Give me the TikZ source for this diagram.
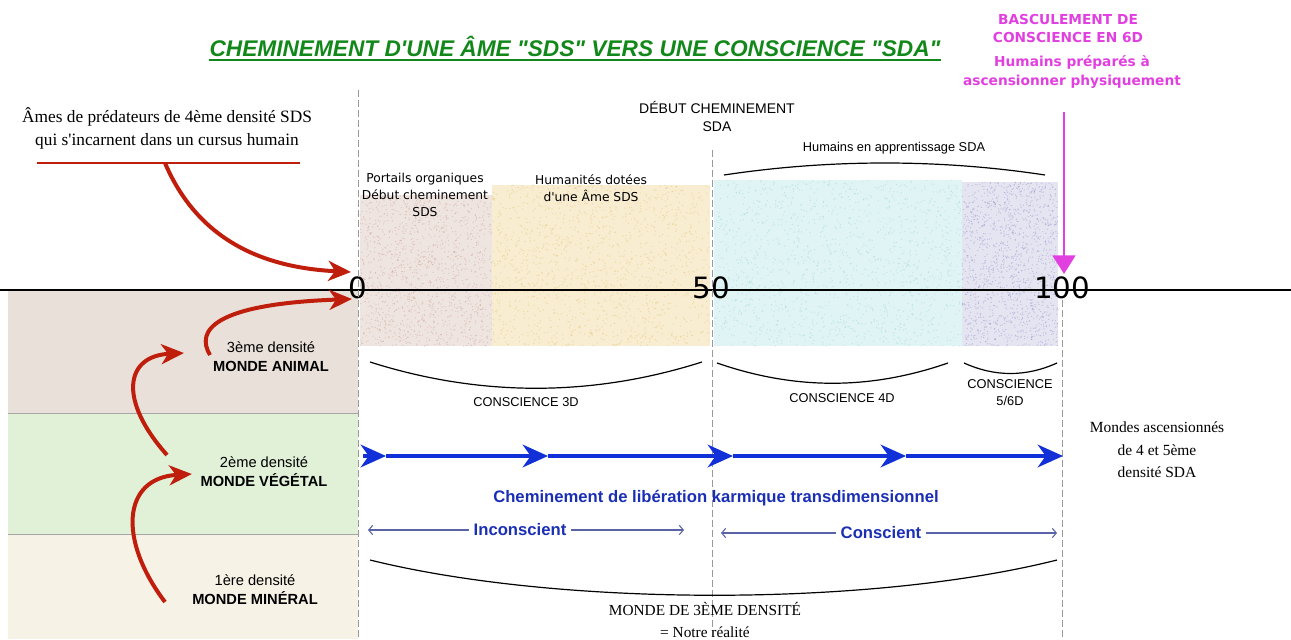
\documentclass[tikz,border=0pt]{standalone}
\usepackage{fontspec}
\setmainfont{Liberation Serif}[Ligatures=TeXOff]
\setsansfont{Liberation Sans}[Ligatures=TeXOff]
\newfontfamily\dvs{DejaVu Sans}[Ligatures=TeXOff]
\usetikzlibrary{arrows.meta}
\tikzset{>=latex}
\definecolor{titlegreen}{HTML}{13881A}
\definecolor{pinkish}{HTML}{E23FE0}
\definecolor{darkred}{HTML}{C01E0C}
\definecolor{karmablue}{HTML}{1230D8}
\definecolor{textblue}{HTML}{1A2FB4}
\definecolor{thinblue}{HTML}{5A62A8}
\definecolor{bandanimal}{HTML}{E9E1D9}
\definecolor{bandvegetal}{HTML}{E0F1D8}
\definecolor{bandmineral}{HTML}{F7F2E6}
\definecolor{portbg}{HTML}{EADCD6}
\definecolor{portdot}{HTML}{C09080}
\definecolor{humbg}{HTML}{F5E6C2}
\definecolor{humdot}{HTML}{E2B850}
\definecolor{sdabg}{HTML}{D6F0F1}
\definecolor{sdadot}{HTML}{80CCD4}
\definecolor{vibg}{HTML}{DCDCEE}
\definecolor{vidot}{HTML}{8080BC}
\newcommand{\fsz}[2]{\fontsize{#1}{#2}\selectfont}
% zone tachetee : x1 y1 largeur hauteur fond points
\newcommand{\speckle}[6]{
  \fill[#5, opacity=.75] (#1,#2) rectangle ++(#3,#4);
  \foreach \k in {1,...,1400}{
    \pgfmathsetmacro{\sx}{#1+#3*rnd}
    \pgfmathsetmacro{\sy}{#2+#4*rnd}
    \fill[#6, opacity=.35] (\sx,\sy) circle (0.7);
  }
}
\tikzset{
  redarrow/.style={darkred, line width=3pt, -{Stealth[length=17pt,width=15pt,inset=5pt]}},
  bluearrow/.style={karmablue, line width=2.6pt, -{Stealth[length=19pt,width=17pt,inset=6pt]}},
  thinarrow/.style={thinblue, line width=0.8pt, -{Straight Barb[length=3pt,width=7pt]}},
  dashline/.style={gray!80, line width=0.6pt, dash pattern=on 5pt off 2.5pt},
  arc/.style={black, line width=0.9pt},
  banner/.style={font=\sffamily\fsz{11}{14.25}, align=center},
  consc/.style={font=\sffamily\fsz{9.6}{12.75}, align=center},
  bigdigit/.style={font=\dvs\fsz{22}{24}, inner sep=0pt},
}
\begin{document}
\begin{tikzpicture}[x=0.75pt,y=-0.75pt]
\useasboundingbox (0,0) rectangle (1291,639);
\pgfmathsetseed{7}
% densites a gauche
\fill[bandanimal] (8,290) rectangle (358,413);
\fill[bandvegetal] (8,413) rectangle (358,534);
\fill[bandmineral] (8,534) rectangle (358,639);
\draw[gray!70] (8,413) -- (358,413) (8,534) -- (358,534);
% zones colorees
\speckle{360}{195}{132}{151}{portbg}{portdot}
\speckle{492}{185}{218}{161}{humbg}{humdot}
\speckle{714}{180}{248}{166}{sdabg}{sdadot}
\speckle{962}{182}{96}{164}{vibg}{vidot}

\node[font=\sffamily\bfseries\itshape\fsz{17}{20}, text=titlegreen, inner sep=0pt] (title) at (575,46) {CHEMINEMENT D'UNE ÂME "SDS" VERS UNE CONSCIENCE "SDA"};
\draw[titlegreen, line width=1pt] ([yshift=-3pt]title.base west) -- ([yshift=-3pt]title.base east);

\node[font=\dvs\bfseries\fsz{10.3}{13.5}, text=pinkish, align=center] (bascule) at (1068,29) {BASCULEMENT DE\\CONSCIENCE EN 6D};
\node[font=\dvs\bfseries\fsz{10.3}{14.25}, text=pinkish, align=center] (prepares) at (1072,72) {Humains préparés à\\ascensionner physiquement};

% axe
\coordinate (axl) at (0,290);
\coordinate (axr) at (1291,290);
\draw[black, line width=1.1pt] (axl) -- (axr);
\node[bigdigit] (zero) at (358,288) {0};
\node[bigdigit] (fifty) at (711,288) {50};
\node[bigdigit] (hundred) at (1062,288) {100};
\coordinate (d0) at (358,90);
\coordinate (d50) at (712,150);
\coordinate (d100) at (1062,300);
\draw[dashline] (d0) -- (358,639);
\draw[dashline] (d50) -- (712,639);
\draw[dashline] (d100) -- (1062,639);

% fleche rose
\coordinate (pk) at (1064,112);
\draw[pinkish, line width=2.2pt, -{Triangle[length=14pt,width=17pt]}] (pk) -- (1064,274);

% ames SDS
\node[font=\rmfamily\fsz{13}{17.25}, align=center] (ames) at (167,128) {Âmes de prédateurs de 4ème densité SDS\\qui s'incarnent dans un cursus humain};
\coordinate (barl) at (37,163);
\coordinate (barr) at (300,163);
\coordinate (barm) at (165,163);
\draw[darkred, line width=1.5pt] (barl) -- (barr);
\draw[redarrow] (barm) .. controls (200,245) and (270,268) .. (351,272);

\node[font=\dvs\fsz{9.2}{12.75}, align=center] (portails) at (425,195) {Portails organiques\\Début cheminement\\SDS};
\node[font=\dvs\fsz{9.2}{12.75}, align=center] (humanites) at (591,188) {Humanités dotées\\d'une Âme SDS};
\node[font=\sffamily\fsz{10.5}{13.5}, align=center] (debutsda) at (717,116) {DÉBUT CHEMINEMENT\\SDA};
\node[font=\sffamily\fsz{9.6}{12}] (apprent) at (894,148) {Humains en apprentissage SDA};
\coordinate (ap1) at (724,175);
\coordinate (ap2) at (1045,175);
\draw[arc] (ap1) .. controls (830,159) and (940,159) .. (ap2);

% mondes
\node[banner] (animal) at (271,357) {3ème densité\\\textbf{MONDE ANIMAL}};
\node[banner] (vegetal) at (264,472) {2ème densité\\\textbf{MONDE VÉGÉTAL}};
\node[banner] (mineral) at (255,590) {1ère densité\\\textbf{MONDE MINÉRAL}};
\coordinate (m1) at (165,602);
\coordinate (m2) at (167,455);
\coordinate (m3) at (210,355);
\draw[redarrow] (m1) .. controls (118,540) and (122,478) .. ([xshift=-3pt]vegetal.west |- 0,474);
\draw[redarrow] (m2) .. controls (118,400) and (125,356) .. (184,353);
\draw[redarrow] (m3) .. controls (195,330) and (215,304) .. (352,299);

% consciences
\coordinate (a3l) at (370,362);
\coordinate (a3r) at (702,362);
\draw[arc] (a3l) .. controls (480,397) and (592,397) .. (a3r);
\node[consc] (c3d) at (526,402) {CONSCIENCE 3D};
\coordinate (a4l) at (717,363);
\coordinate (a4r) at (948,363);
\draw[arc] (a4l) .. controls (795,390) and (870,390) .. (a4r);
\node[consc] (c4d) at (842,398) {CONSCIENCE 4D};
\coordinate (a5l) at (964,363);
\coordinate (a5r) at (1057,363);
\draw[arc] (a5l) .. controls (995,377) and (1026,377) .. (a5r);
\node[consc] (c56d) at (1010,393) {CONSCIENCE\\5/6D};

% cheminement karmique
\coordinate (b0) at (363,456);
\coordinate (b1) at (386,456);
\coordinate (b2) at (548,456);
\coordinate (b3) at (733,456);
\coordinate (b4) at (906,456);
\coordinate (b5) at (1063,456);
\draw[bluearrow] (b0) -- (b1);
\draw[bluearrow] (b1) -- (b2);
\draw[bluearrow] (b2) -- (b3);
\draw[bluearrow] (b3) -- (b4);
\draw[bluearrow] (b4) -- (b5);
\node[font=\sffamily\bfseries\fsz{12.5}{15}, text=textblue] (karma) at (716,498) {Cheminement de libération karmique transdimensionnel};

\node[font=\sffamily\bfseries\fsz{12.5}{15}, text=textblue] (incons) at (520,530) {Inconscient};
\node[font=\sffamily\bfseries\fsz{12.5}{15}, text=textblue] (consc) at (881,533) {Conscient};
\coordinate (i1) at (368,530);
\coordinate (i2) at (684,530);
\coordinate (c1) at (721,533);
\coordinate (c2) at (1057,533);
\draw[thinarrow] (incons.west) -- (i1);
\draw[thinarrow] (incons.east) -- (i2);
\draw[thinarrow] (consc.west) -- (c1);
\draw[thinarrow] (consc.east) -- (c2);

% monde de 3eme densite
\coordinate (ml) at (370,560);
\coordinate (mr) at (1057,560);
\draw[arc] (ml) .. controls (560,607) and (870,607) .. (mr);
\node[font=\rmfamily\fsz{11.5}{16.5}, align=center] (monde3d) at (705,620) {MONDE DE 3ÈME DENSITÉ\\= Notre réalité};

\node[font=\rmfamily\fsz{11.6}{17}, align=center] (ascens) at (1157,450) {Mondes ascensionnés\\de 4 et 5ème\\densité SDA};
\end{tikzpicture}
\end{document}
